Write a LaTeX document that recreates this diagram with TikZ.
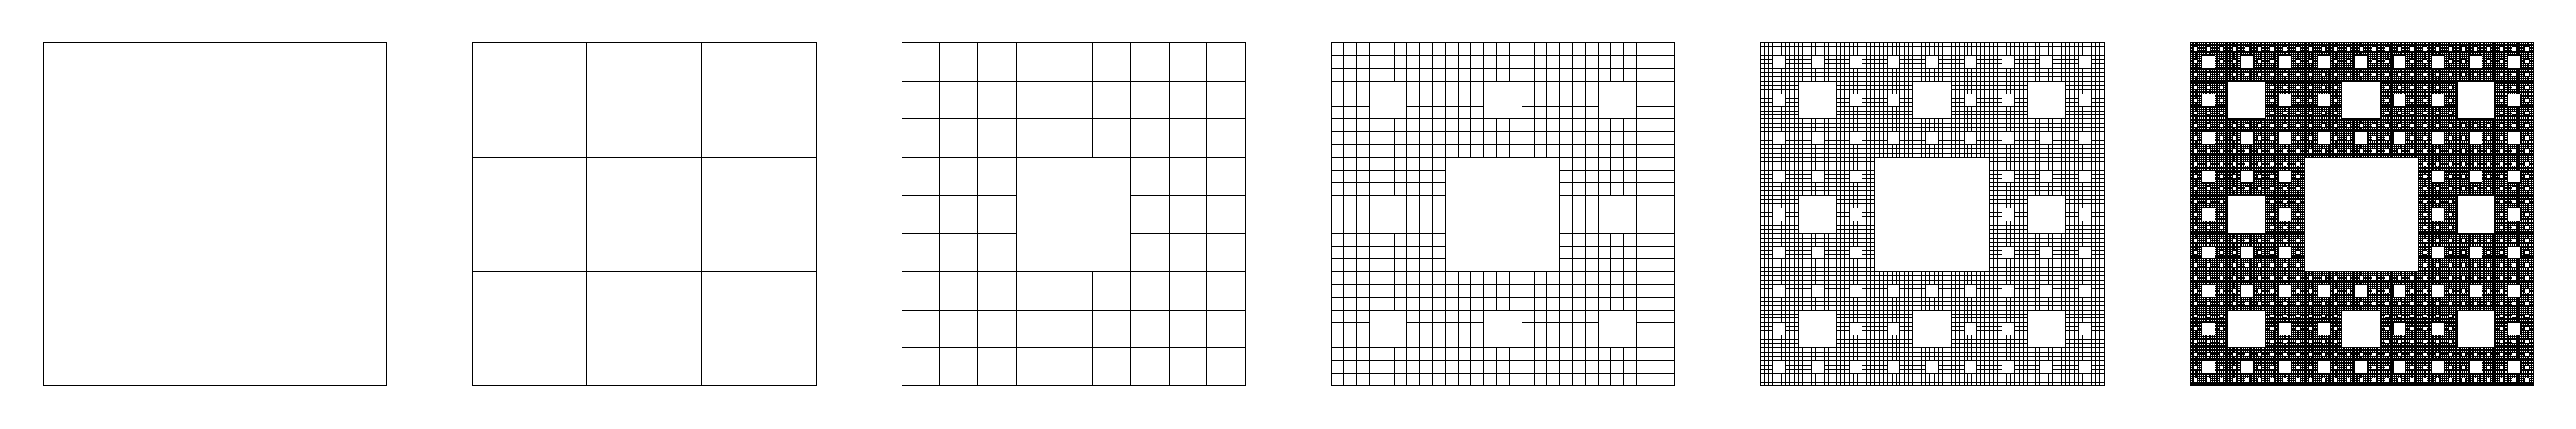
\documentclass[tikz,border=0pt]{standalone}
\tikzset{
  carpetline/.style={line width=0.1mm, black},
  hole/.style={line width=0.1mm, draw=black, fill=white}
}
\makeatletter
\newcommand\carpetholes[4]{% x y size depth
  \ifnum#4>0\relax
    \pgfmathsetmacro\chs{#3/3}%
    \filldraw[hole] (#1+\chs,#2+\chs) rectangle ++(\chs,\chs);%
    \foreach \ci in {0,1,2}{\foreach \cj in {0,1,2}{%
      \ifnum\ci\cj=11\relax\else
        \pgfmathsetmacro\cnx{#1+\ci*\chs}%
        \pgfmathsetmacro\cny{#2+\cj*\chs}%
        \pgfmathtruncatemacro\cnd{#4-1}%
        \edef\ctmp{\noexpand\carpetholes{\cnx}{\cny}{\chs}{\cnd}}\ctmp
      \fi}}%
  \fi}
\newcommand\carpetlevel[2]{% index k, level n
  \pgfmathsetmacro\clx{0.5+5*#1}%
  \pgfmathtruncatemacro\clN{3^#2}%
  \pgfmathsetmacro\cls{4/\clN}%
  \pgfmathtruncatemacro\clM{\clN-1}%
  \begin{scope}[shift={(\clx,0.5)}]
    \ifnum\clN>1\relax
      \draw[carpetline] \foreach \t in {1,...,\clM}{(\t*\cls,0) -- (\t*\cls,4) (0,\t*\cls) -- (4,\t*\cls)};
    \fi
    \pgfmathtruncatemacro\cld{#2-1}%
    \ifnum\cld>0\relax
      \edef\ctmp{\noexpand\carpetholes{0}{0}{4}{\cld}}\ctmp
    \fi
    \draw[carpetline] (0,0) rectangle (4,4);
  \end{scope}}
\makeatother
\begin{document}
\begin{tikzpicture}
\useasboundingbox (0,0) rectangle (30,5);
\foreach \k in {0,...,5}{\carpetlevel{\k}{\k}}
\end{tikzpicture}
\end{document}
